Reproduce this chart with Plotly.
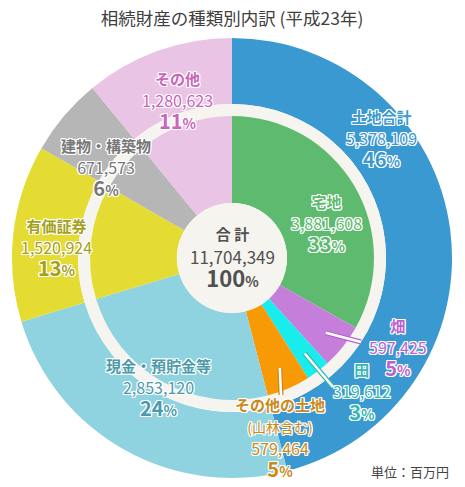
import math
import plotly.graph_objects as go

# data (単位: 百万円)
outer_labels = ['土地合計', '現金・預貯金等', '有価証券', '建物・構築物', 'その他']
outer_values = [5378109, 2853120, 1520924, 671573, 1280623]
outer_pcts = [46, 24, 13, 6, 11]

land_labels = ['宅地', '畑', '田', 'その他の土地']
land_values = [3881608, 597425, 319612, 579464]
land_pcts = [33, 5, 3, 5]

total_value = 11704349
total_pct = 100

W, H = 465, 487
OFF = 8                    # page body margin shifts the figure, compensate
CX, CY = 232, 258          # centre of the chart in pixels
R_OUT, R_GAP_OUT, R_GAP_IN, R_CENTER = 220, 154, 142, 55

outer_colors = ['#3b99d1', '#8fd2e0', '#e4dc32', '#b6b6b6', '#e9c4e4']
land_colors = ['#5dba6e', '#c57ed9', '#19ecec', '#f79a06']
cream = '#f6f4ee'

def px(x):
    return (x - OFF) / W

def py(y):
    return 1 - (y - OFF) / H

def dom(r):
    return dict(x=[px(CX - r), px(CX + r)], y=[py(CY + r), py(CY - r)])

fig = go.Figure()

fig.add_trace(go.Pie(
    values=outer_values, labels=outer_labels, sort=False, direction='clockwise',
    marker=dict(colors=outer_colors, line=dict(width=0)),
    hole=R_GAP_OUT / R_OUT, textinfo='none', domain=dom(R_OUT), showlegend=False))

fig.add_trace(go.Pie(
    values=[1], labels=['gap'], marker=dict(colors=[cream], line=dict(width=0)),
    hole=R_GAP_IN / R_GAP_OUT, textinfo='none', hoverinfo='skip',
    domain=dom(R_GAP_OUT), showlegend=False))

inner_values = land_values + outer_values[1:]
inner_labels = land_labels + outer_labels[1:]
fig.add_trace(go.Pie(
    values=inner_values, labels=inner_labels, sort=False, direction='clockwise',
    marker=dict(colors=land_colors + outer_colors[1:], line=dict(width=0)),
    hole=R_CENTER / R_GAP_IN, textinfo='none', domain=dom(R_GAP_IN), showlegend=False))

fig.add_trace(go.Pie(
    values=[1], labels=['合計'], marker=dict(colors=[cream], line=dict(width=0)),
    textinfo='none', hoverinfo='skip', domain=dom(R_CENTER), showlegend=False))

FONT = 'Noto Sans CJK JP'
halo = ', '.join(f'{a}px {b}px 0 #fff' for a in (-1, 0, 1) for b in (-1, 0, 1) if a or b)

def sp(s, size, bold=False):
    if bold:
        s = f'<b>{s}</b>'
    return f"<span style='font-size:{size}px'>{s}</span>"

def pct(p, size):
    return sp(p, size, True) + sp('%', 14, True)

def block(x, y, lines, color, base=17, shadow=True):
    fig.add_annotation(x=px(x), y=py(y), xref='paper', yref='paper',
                       text='<br>'.join(lines), showarrow=False,
                       xanchor='center', yanchor='middle', align='center',
                       font=dict(family=FONT, size=base, color=color,
                                 shadow=halo if shadow else 'none'))

def label_lines(name, value, p, extra=None):
    lines = [sp(name, 15, True)]
    if extra:
        lines.append(sp(extra, 14))
    lines.append(sp(f'{value:,}', 16))
    lines.append(pct(p, 20))
    return lines

# block centres (middle of the text block)
outer_pos = [(381, 139), (158, 388), (56, 249), (106, 169), (177, 101)]
outer_text_colors = ['#3b99d1', '#4b9aab', '#a5a01a', '#777777', '#c866b8']
for i in range(len(outer_labels)):
    x, y = outer_pos[i]
    block(x, y, label_lines(outer_labels[i], outer_values[i], outer_pcts[i]),
          outer_text_colors[i])

land_pos = [(326, 224), (398, 348), (362, 392), (280, 438)]
land_text_colors = ['#5dba6e', '#b863d1', '#36b8b2', '#c98a1c']
land_extra = [None, None, None, '(山林含む)']

# leader lines for the small land slices: start at slice middle, end near label
line_ends = [None, (361, 342), (333, 387), (281, 395)]
cum = 0
for i, v in enumerate(land_values):
    mid = (cum + v / 2) / total_value * 2 * math.pi
    cum += v
    if line_ends[i] is None:
        continue
    sx = CX + 120 * math.sin(mid)
    sy = CY - 120 * math.cos(mid)
    ex, ey = line_ends[i]
    for w, c in ((5, land_text_colors[i]), (2.5, '#ffffff')):
        fig.add_shape(type='line', xref='paper', yref='paper',
                      x0=px(sx), y0=py(sy), x1=px(ex), y1=py(ey),
                      line=dict(color=c, width=w), layer='above')

for i in range(len(land_labels)):
    x, y = land_pos[i]
    block(x, y, label_lines(land_labels[i], land_values[i], land_pcts[i], land_extra[i]),
          land_text_colors[i])

# centre
block(CX, 258, [sp('合 計', 15, True), sp(f'{total_value:,}', 17), pct(total_pct, 22)],
      '#505050', base=18.2, shadow=False)

fig.add_annotation(x=px(451), y=py(471), xref='paper', yref='paper', text='単位：百万円',
                   showarrow=False, xanchor='right', yanchor='middle',
                   font=dict(family=FONT, size=13, color='#444444'))

fig.update_layout(
    width=W, height=H, margin=dict(l=0, r=0, t=0, b=0),
    paper_bgcolor='white', plot_bgcolor='white',
    title=dict(text='相続財産の種類別内訳 (平成23年)', x=px(232), xanchor='center',
               y=py(19), yanchor='middle', yref='paper',
               font=dict(family=FONT, size=17.5, color='#404040')),
)

fig.write_html('out.html')
